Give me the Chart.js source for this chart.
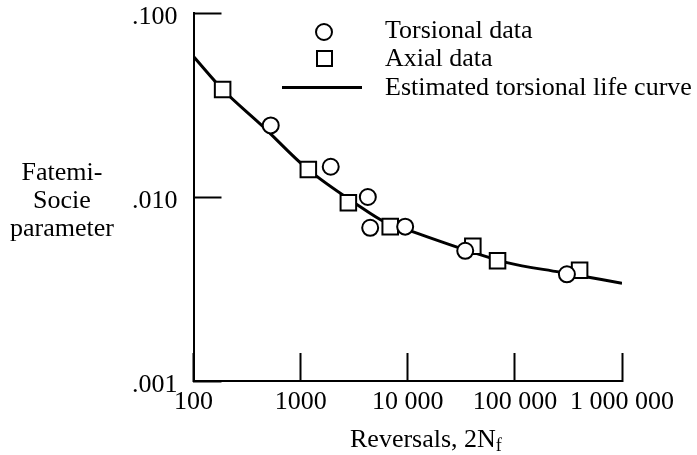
<!DOCTYPE html>
<html>
<head>
<meta charset="utf-8">
<script src="https://cdn.jsdelivr.net/npm/chart.js@4"></script>
<style>
  body { margin: 0; background: #fff; }
  #wrap { position: relative; width: 697px; height: 455px; font-family: "Liberation Serif", "DejaVu Serif", serif; color: #000; }
  #chart { position: absolute; left: 0; top: 0; }
  .lbl { position: absolute; font-size: 26px; line-height: 28px; white-space: nowrap; }
  .leg-txt { position: absolute; left: 385px; font-size: 26px; line-height: 28px; white-space: nowrap; }
  .mk-circle { position: absolute; width: 14px; height: 14px; border: 2px solid #000; border-radius: 50%; }
  .mk-square { position: absolute; width: 13px; height: 13px; border: 2px solid #000; }
  .mk-line { position: absolute; height: 3px; background: #000; }
</style>
</head>
<body>
<div id="wrap">
  <canvas id="chart" width="697" height="455"></canvas>

  <!-- axis titles -->
  <div class="lbl" style="left:0; width:124px; top:158px; text-align:center;">Fatemi-<br>Socie<br>parameter</div>
  <div class="lbl" style="left:350px; top:425px;">Reversals, 2N<sub style="font-size:18px; vertical-align:-4px;">f</sub></div>

  <!-- legend -->
  <div class="mk-circle" style="left:315px; top:23px;"></div>
  <div class="leg-txt" style="top:16px;">Torsional data</div>
  <div class="mk-square" style="left:316px; top:50px;"></div>
  <div class="leg-txt" style="top:44px;">Axial data</div>
  <div class="mk-line" style="left:282px; width:80px; top:86px;"></div>
  <div class="leg-txt" style="top:73px;">Estimated torsional life curve</div>
</div>

<script>
// Torsional data (circles)
const torsionalX = [526, 1910, 4240, 4460, 9460, 34400, 306000];
const torsionalY = [0.0245, 0.0146, 0.0100, 0.0068, 0.0069, 0.0051, 0.0038];

// Axial data (squares)
const axialX = [187, 1180, 2790, 6860, 40500, 68900, 402000];
const axialY = [0.0384, 0.0141, 0.0093, 0.0069, 0.0054, 0.0045, 0.0040];

// Estimated torsional life curve
const curveX = [100, 187, 434, 1140, 3460, 6150, 10900, 33100, 84400, 265000, 1000000];
const curveY = [0.058, 0.0384, 0.0245, 0.0143, 0.0090, 0.0073, 0.0065, 0.0052, 0.0044, 0.0039, 0.0034];

// Tick values and labels
const xTickValues = [100, 1000, 10000, 100000, 1000000];
const xTickLabels = ['100', '1000', '10 000', '100 000', '1 000 000'];
const yTickValues = [0.001, 0.01, 0.1];
const yTickLabels = ['.001', '.010', '.100'];

const toPoints = (xs, ys) => xs.map((x, i) => ({ x: x, y: ys[i] }));
const tickFont = { family: '"Liberation Serif", "DejaVu Serif", serif', size: 26, lineHeight: 1 };

const ctx = document.getElementById('chart').getContext('2d');
const chart = new Chart(ctx, {
    type: 'scatter',
    data: {
        datasets: [
            {
                label: 'Torsional data',
                data: toPoints(torsionalX, torsionalY),
                pointStyle: 'circle',
                pointRadius: 8,
                borderWidth: 2,
                borderColor: '#000',
                backgroundColor: '#fff'
            },
            {
                label: 'Axial data',
                data: toPoints(axialX, axialY),
                pointStyle: 'rect',
                pointRadius: 11,
                borderWidth: 2,
                borderColor: '#000',
                backgroundColor: '#fff'
            },
            {
                label: 'Estimated torsional life curve',
                data: toPoints(curveX, curveY),
                showLine: true,
                pointRadius: 0,
                borderWidth: 3,
                borderColor: '#000',
                cubicInterpolationMode: 'monotone'
            }
        ]
    },
    options: {
        responsive: false,
        animation: false,
        layout: { padding: { left: 0, right: 75, top: 12, bottom: 0 } },
        plugins: {
            legend: { display: false },
            tooltip: { enabled: false }
        },
        scales: {
            x: {
                type: 'logarithmic',
                min: 100,
                max: 1000000,
                border: { display: true, color: '#000', width: 2 },
                grid: { drawOnChartArea: false, drawTicks: true, tickLength: -28, tickWidth: 2, tickColor: '#000' },
                afterBuildTicks: scale => { scale.ticks = xTickValues.map(v => ({ value: v })); },
                afterFit: scale => {
                    scale.height = 74;
                    scale.paddingLeft = 0;
                    scale.paddingRight = 0;
                },
                ticks: {
                    autoSkip: false,
                    maxRotation: 0,
                    padding: 36,
                    color: '#000',
                    font: tickFont,
                    callback: (value, index) => xTickLabels[index]
                }
            },
            y: {
                type: 'logarithmic',
                min: 0.001,
                max: 0.1,
                border: { display: true, color: '#000', width: 2 },
                grid: { drawOnChartArea: false, drawTicks: true, tickLength: -28, tickWidth: 2, tickColor: '#000' },
                afterBuildTicks: scale => { scale.ticks = yTickValues.map(v => ({ value: v })); },
                afterFit: scale => {
                    scale.width = 193.5;
                    scale.paddingTop = 0;
                    scale.paddingBottom = 0;
                },
                ticks: {
                    autoSkip: false,
                    padding: 44,
                    labelOffset: 4,
                    color: '#000',
                    font: tickFont,
                    callback: (value, index) => yTickLabels[index]
                }
            }
        }
    }
});
</script>
</body>
</html>
